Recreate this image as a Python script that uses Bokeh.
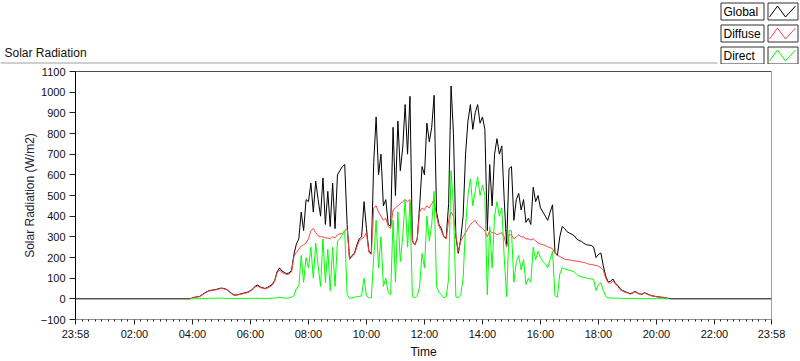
from bokeh.plotting import figure
from bokeh.layouts import column
from bokeh.models import FixedTicker, Span, Range1d
from bokeh.core.properties import value
from bokeh.embed import file_html
from bokeh.resources import INLINE

# ---------------- data (W/m2), 5-minute samples ----------------
START_MIN = 235      # 03:55, minutes after midnight
STEP_MIN = 5
X_MIN, X_MAX = -2, 1438   # 23:58 .. 23:58

global_wm2 = [0,
    5, 8, 10, 12, 20, 28, 35, 40, 42, 44, 46, 50,                 # 04
    52, 50, 46, 38, 28, 20, 18, 21, 24, 27, 30, 33,               # 05
    40, 48, 62, 66, 58, 54, 50, 55, 62, 70, 88, 130,              # 06
    150, 135, 128, 122, 125, 138, 215, 265, 290, 420, 330, 480,   # 07
    470, 560, 420, 570, 480, 400, 585, 360, 520, 350, 560, 340,   # 08
    600, 620, 640, 650, 360, 195, 210, 220, 260, 290, 300, 470,   # 09
    340, 230, 220, 660, 880, 600, 700, 450, 480, 360, 350, 830,   # 10
    500, 860, 620, 730, 940, 700, 980, 280, 260, 290, 450, 640,   # 11
    600, 850, 760, 830, 985, 420, 360, 340, 300, 295, 460, 1030,  # 12
    800, 300, 220, 290, 400, 700, 860, 940, 820, 900, 940, 850,   # 13
    880, 820, 330, 650, 450, 700, 775, 700, 740, 480, 260, 630,   # 14
    640, 380, 480, 510, 430, 480, 370, 390, 360, 540, 470, 500,   # 15
    440, 420, 400, 380, 420, 455, 225, 210, 300, 350, 340, 325,   # 16
    318, 312, 305, 290, 282, 278, 268, 262, 260, 258, 250, 200,   # 17
    215, 222, 160, 110, 82, 85, 96, 75, 65, 48, 40, 35,           # 18
    30, 25, 28, 36, 30, 24, 22, 30, 25, 20, 15, 13,               # 19
    11, 9, 8, 7, 4, 2, 0]                                         # 20

diffuse_wm2 = [0,
    4, 7, 9, 11, 18, 26, 33, 38, 40, 42, 44, 48,
    50, 48, 44, 36, 26, 18, 17, 20, 22, 25, 28, 31,
    38, 46, 58, 62, 55, 51, 48, 52, 58, 66, 84, 125,
    140, 128, 122, 118, 120, 130, 205, 225, 240, 255, 262, 270,
    290, 330, 340, 320, 305, 300, 300, 295, 295, 290, 300, 295,
    310, 315, 315, 330, 340, 190, 205, 215, 250, 280, 290, 300,
    320, 225, 215, 440, 450, 420, 400, 380, 390, 350, 340, 430,
    440, 450, 460, 470, 480, 470, 480, 285, 260, 285, 420, 440,
    430, 450, 440, 460, 480, 400, 350, 330, 300, 290, 380, 420,
    400, 310, 230, 280, 300, 320, 340, 360, 370, 380, 360, 350,
    340, 330, 300, 330, 320, 320, 310, 315, 320, 300, 250, 310,
    310, 290, 300, 310, 300, 300, 290, 290, 285, 290, 280, 270,
    265, 262, 258, 252, 248, 242, 220, 210, 205, 198, 192, 190,
    188, 186, 184, 182, 180, 178, 176, 172, 168, 166, 164, 162,
    158, 150, 140, 100, 78, 76, 86, 72, 60, 44, 37, 32,
    28, 23, 26, 33, 28, 22, 20, 28, 23, 18, 14, 12,
    10, 8, 7, 6, 4, 2]

direct_wm2 = [0,
    0, 0, 1, 1, 2, 2, 2, 3, 2, 3, 3, 3,
    3, 3, 2, 2, 2, 1, 1, 1, 2, 2, 2, 2,
    2, 2, 3, 3, 2, 2, 2, 2, 3, 3, 4, 5,
    8, 5, 4, 3, 4, 8, 15, 50, 60, 210, 80, 200,
    150, 250, 100, 270, 160, 60, 290, 80, 240, 40, 250, 60,
    280, 290, 310, 330, 20, 2, 5, 8, 10, 12, 15, 100,
    15, 5, 5, 200, 380, 150, 300, 60, 100, 30, 20, 380,
    80, 420, 180, 300, 480, 250, 470, 10, 5, 15, 60, 220,
    150, 400, 280, 360, 520, 60, 30, 20, 5, 10, 100, 620,
    450, 10, 5, 20, 100, 350, 500, 580, 450, 520, 590, 500,
    550, 500, 20, 350, 150, 400, 470, 400, 440, 200, 10, 330,
    330, 80, 180, 210, 140, 190, 70, 100, 80, 250, 190, 230,
    200, 180, 170, 150, 190, 230, 15, 8, 120, 150, 145, 140,
    138, 135, 130, 118, 110, 106, 104, 100, 98, 96, 94, 40,
    70, 78, 40, 12, 5, 4, 4, 3, 3, 2, 2, 2,
    2, 2, 2, 2, 1, 1, 1, 1, 1, 1, 1, 1,
    1, 1, 1, 1, 0, 0]

x_tick_minutes = [-2, 120, 240, 360, 480, 600, 720, 840, 960, 1080, 1200, 1320, 1438]
x_tick_labels = ["23:58", "02:00", "04:00", "06:00", "08:00", "10:00", "12:00",
                 "14:00", "16:00", "18:00", "20:00", "22:00", "23:58"]
y_ticks = [-100, 0, 100, 200, 300, 400, 500, 600, 700, 800, 900, 1000, 1100]

chart_title = "Solar Radiation"
y_label = "Solar Radiation (W/m2)"
x_label = "Time"
series_names = ["Global", "Diffuse", "Direct"]
series_colors = ["#000000", "#ff4040", "#00ff00"]

FONT = "Liberation Sans"
TXT = "#101010"

def sample_times(n):
    return [START_MIN + STEP_MIN * i for i in range(n)]

# ---------------- header: title, frame line, legend (pixel coordinates) ----------------
HEAD_H = 64
head = figure(width=800, height=HEAD_H, output_backend="svg", toolbar_location=None,
              x_range=Range1d(0, 800), y_range=Range1d(HEAD_H, 0),
              x_axis_type=None, y_axis_type=None, min_border=0,
              min_border_left=0, min_border_right=0, min_border_top=0, min_border_bottom=0,
              background_fill_color="white", border_fill_color="white")
head.title.visible = False
head.outline_line_color = None

head.text(x=[4], y=[52.5], text=[chart_title], text_font=value(FONT),
          text_font_size=value("12px"), text_baseline="middle", text_align="left",
          text_color=TXT)
head.segment(x0=[0], y0=[62.5], x1=[717], y1=[62.5], line_color="#a0a0a0", line_width=1)

row_tops = [2.5, 24.5, 46.5]
row_h = 17
head.quad(left=[720.5] * 3, right=[763.5] * 3, top=row_tops,
          bottom=[t + row_h for t in row_tops], fill_color="white",
          line_color="#303030", line_width=1)
head.quad(left=[767.5] * 3, right=[797.5] * 3, top=row_tops,
          bottom=[t + row_h for t in row_tops], fill_color="white",
          line_color="#303030", line_width=1)
head.text(x=[723] * 3, y=[t + 9 for t in row_tops], text=series_names,
          text_font=value(FONT), text_font_size=value("12px"),
          text_baseline="middle", text_align="left", text_color="black")
zx, zy = [], []
for t in row_tops:
    zx.append([769, 777, 785, 795])
    zy.append([t + 14, t + 3, t + 14, t + 3])
head.multi_line(xs=zx, ys=zy, line_color=series_colors, line_width=1)

# ---------------- main chart ----------------
p = figure(width=800, height=361 - HEAD_H, output_backend="svg", toolbar_location=None,
           x_range=Range1d(X_MIN, X_MAX), y_range=Range1d(-100, 1100),
           min_border_left=75, min_border_right=29, min_border_top=7, min_border_bottom=39,
           background_fill_color="white", border_fill_color="white")
p.title.visible = False
p.xgrid.visible = False
p.ygrid.visible = False
p.outline_line_color = "#a0a0a0"

# the header must keep its own full-width frame
for fig in (head, p):
    try:
        fig.frame_align = False
    except Exception:
        pass

minor = []
for a, b in zip(x_tick_minutes[:-1], x_tick_minutes[1:]):
    for k in range(1, 9):
        minor.append(a + (b - a) * k / 9.0)
p.xaxis.ticker = FixedTicker(ticks=x_tick_minutes, minor_ticks=minor)
p.xaxis.major_label_overrides = dict(zip(x_tick_minutes, x_tick_labels))
p.xaxis.axis_line_color = "#909090"
p.xaxis.major_tick_line_color = "#202020"
p.xaxis.minor_tick_line_color = "#202020"
p.xaxis.major_tick_out = 5
p.xaxis.major_tick_in = 0
p.xaxis.minor_tick_out = 2
p.xaxis.minor_tick_in = 0
p.xaxis.major_label_standoff = 3
p.xaxis.major_label_text_font = FONT
p.xaxis.major_label_text_font_size = "11px"
p.xaxis.major_label_text_color = TXT
p.xaxis.axis_label = x_label
p.xaxis.axis_label_standoff = 2
p.xaxis.axis_label_text_font = FONT
p.xaxis.axis_label_text_font_size = "12px"
p.xaxis.axis_label_text_font_style = "normal"
p.xaxis.axis_label_text_color = TXT

p.yaxis.ticker = FixedTicker(ticks=y_ticks, minor_ticks=[])
p.yaxis.axis_line_color = "black"
p.yaxis.major_tick_line_color = "#202020"
p.yaxis.major_tick_out = 6
p.yaxis.major_tick_in = 0
p.yaxis.minor_tick_line_color = None
p.yaxis.major_label_standoff = 4
p.yaxis.major_label_text_font = FONT
p.yaxis.major_label_text_font_size = "11px"
p.yaxis.major_label_text_color = TXT
p.yaxis.axis_label = y_label
p.yaxis.axis_label_standoff = 1
p.yaxis.axis_label_text_font = FONT
p.yaxis.axis_label_text_font_size = "12px"
p.yaxis.axis_label_text_font_style = "normal"
p.yaxis.axis_label_text_color = "#202030"

p.add_layout(Span(location=1100, dimension="width", line_color="black", line_width=1))

gx = [X_MIN] + sample_times(len(global_wm2)) + [X_MAX]
gy = [0] + global_wm2 + [0]
p.line(gx, gy, line_color=series_colors[0], line_width=1)
p.line(sample_times(len(diffuse_wm2)), diffuse_wm2, line_color=series_colors[1], line_width=1)
p.line(sample_times(len(direct_wm2)), direct_wm2, line_color=series_colors[2], line_width=1)

layout = column(head, p, spacing=0)
open("out.html", "w").write(file_html(layout, INLINE))
